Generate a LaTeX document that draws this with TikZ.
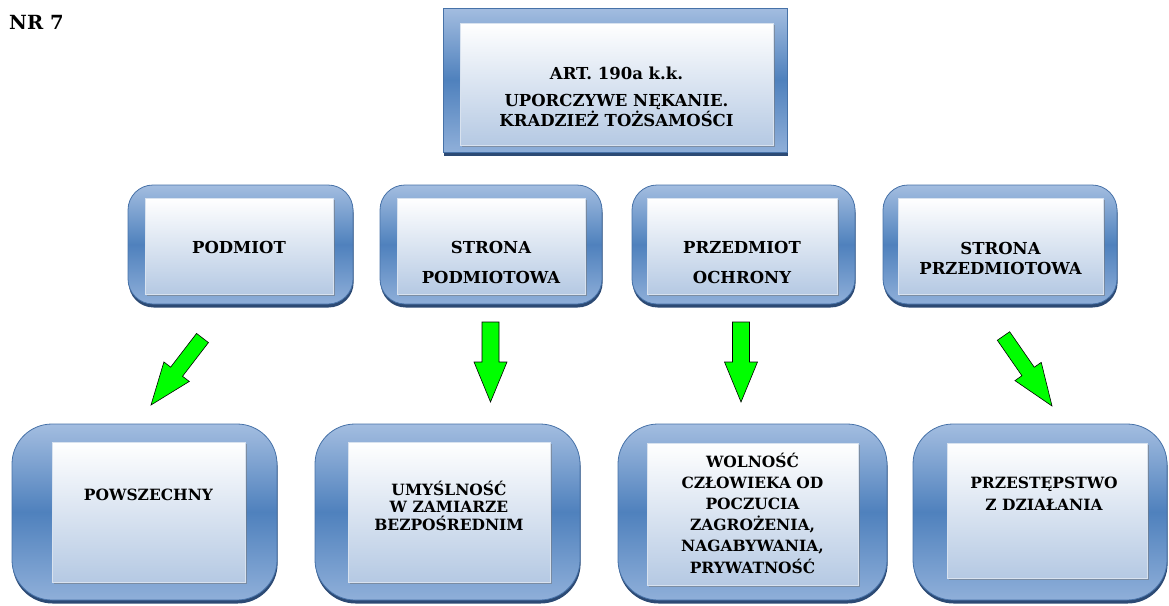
\documentclass[tikz,border=0pt]{standalone}
\usepackage{fontspec}
\setmainfont{DejaVu Serif}
\usetikzlibrary{calc,shadows}
\definecolor{olight}{HTML}{A3BDE0}
\definecolor{olight2}{HTML}{8FAFD9}
\definecolor{odark}{HTML}{4F81BD}
\definecolor{obord}{HTML}{4772A8}
\definecolor{oshad}{HTML}{2C4A74}
\definecolor{ibot}{HTML}{B5C9E3}
\definecolor{iborder}{HTML}{D8E2EF}
\definecolor{agreen}{HTML}{00FF00}
\tikzset{
  outerbox/.style={draw=obord, line width=0.8pt, top color=olight, bottom color=olight2, middle color=odark,
    drop shadow={shadow xshift=0.6pt, shadow yshift=-3.5pt, fill=oshad, opacity=1}, inner sep=0pt},
  inbox/.style={draw=iborder, line width=0.5pt, top color=white, bottom color=ibot,
    drop shadow={shadow xshift=1.5pt, shadow yshift=-1.5pt, fill=black!55, opacity=0.5}, inner sep=0pt},
  lbl/.style={font=\bfseries\fontsize{16.5}{#1}\selectfont, align=center, inner sep=0pt, text=black},
  lblr/.style={font=\bfseries\fontsize{15.5}{#1}\selectfont, align=center, inner sep=0pt, text=black},
  garrowstyle/.style={draw=black, line width=0.6pt, fill=agreen, line join=miter},
}
\newcommand{\greenarrow}[5]{%
  \draw[garrowstyle]
    ($(#1)!#3!90:(#2)$) --
    ($($(#2)!#5!(#1)$)!#3!90:(#2)$) --
    ($($(#2)!#5!(#1)$)!#4!90:(#2)$) --
    (#2) --
    ($($(#2)!#5!(#1)$)!#4!-90:(#2)$) --
    ($($(#2)!#5!(#1)$)!#3!-90:(#2)$) --
    ($(#1)!#3!-90:(#2)$) -- cycle;}
\begin{document}
\begin{tikzpicture}[x=1pt,y=-1pt]
\useasboundingbox (0,0) rectangle (1169,605);

% title fragment
\node[anchor=west, font=\bfseries\fontsize{19.5}{22}\selectfont, inner sep=0pt] (title) at (9,22) {NR 7};

% top box
\node[outerbox, minimum width=344pt, minimum height=144pt] (topo) at (615,80) {};
\node[inbox, minimum width=313pt, minimum height=122pt] (topi) at (616.5,84) {};
\node[lbl=20] (topt) at (616.5,96.5) {ART. 190a k.k.\\[7pt]UPORCZYWE NĘKANIE.\\KRADZIEŻ TOŻSAMOŚCI};

% row 2
\node[outerbox, rounded corners=25pt, minimum width=225pt, minimum height=119pt] (ao) at (240.5,244.5) {};
\node[inbox, minimum width=188pt, minimum height=96pt] (ai) at (239,246) {};
\node[lbl=20] (at) at (239,247) {PODMIOT};

\node[outerbox, rounded corners=25pt, minimum width=222pt, minimum height=119pt] (bo) at (491,244.5) {};
\node[inbox, minimum width=188pt, minimum height=96pt] (bi) at (491,246) {};
\node[lbl=30] (bt) at (491,262) {STRONA\\PODMIOTOWA};

\node[outerbox, rounded corners=25pt, minimum width=223pt, minimum height=119pt] (co) at (743.5,244.5) {};
\node[inbox, minimum width=190pt, minimum height=96pt] (ci) at (742,246) {};
\node[lbl=30] (ct) at (742,262) {PRZEDMIOT\\OCHRONY};

\node[outerbox, rounded corners=25pt, minimum width=234pt, minimum height=119pt] (do) at (1000,244.5) {};
\node[inbox, minimum width=205pt, minimum height=96pt] (di) at (1000.5,246) {};
\node[lbl=20] (dt) at (1000.5,258) {STRONA\\PRZEDMIOTOWA};

% row 3
\node[outerbox, rounded corners=40pt, minimum width=265pt, minimum height=176pt] (eo) at (144.5,512) {};
\node[inbox, minimum width=193pt, minimum height=140pt] (ei) at (148.5,512) {};
\node[lblr=20] (et) at (148.5,495) {POWSZECHNY};

\node[outerbox, rounded corners=40pt, minimum width=265pt, minimum height=176pt] (fo) at (447.5,512) {};
\node[inbox, minimum width=202pt, minimum height=140pt] (fi) at (449,512) {};
\node[lblr=17.5] (ft) at (449,505.5) {UMYŚLNOŚĆ\\W ZAMIARZE\\BEZPOŚREDNIM};

\node[outerbox, rounded corners=40pt, minimum width=269pt, minimum height=176pt] (go) at (752.5,512) {};
\node[inbox, minimum width=211pt, minimum height=142pt] (gi) at (752.5,514) {};
\node[lblr=21.2] (gt) at (752.5,513) {WOLNOŚĆ\\CZŁOWIEKA OD\\POCZUCIA\\ZAGROŻENIA,\\NAGABYWANIA,\\PRYWATNOŚĆ};

\node[outerbox, rounded corners=40pt, minimum width=254pt, minimum height=176pt] (ho) at (1040,512) {};
\node[inbox, minimum width=200pt, minimum height=135pt] (hi) at (1047,510.5) {};
\node[lblr=22] (ht) at (1044,494) {PRZESTĘPSTWO\\Z DZIAŁANIA};

% arrows
\coordinate (a1t) at (202.5,338);
\coordinate (a1h) at (151,405);
\coordinate (a2t) at (490.5,322);
\coordinate (a2h) at (490.5,402);
\coordinate (a3t) at (741,322);
\coordinate (a3h) at (741,402);
\coordinate (a4t) at (1003.5,336);
\coordinate (a4h) at (1052,406);
\greenarrow{a1t}{a1h}{7.5pt}{16pt}{42pt}
\greenarrow{a2t}{a2h}{8.5pt}{16.5pt}{40pt}
\greenarrow{a3t}{a3h}{8.5pt}{16.5pt}{40pt}
\greenarrow{a4t}{a4h}{7.5pt}{16pt}{42pt}
\end{tikzpicture}
\end{document}
